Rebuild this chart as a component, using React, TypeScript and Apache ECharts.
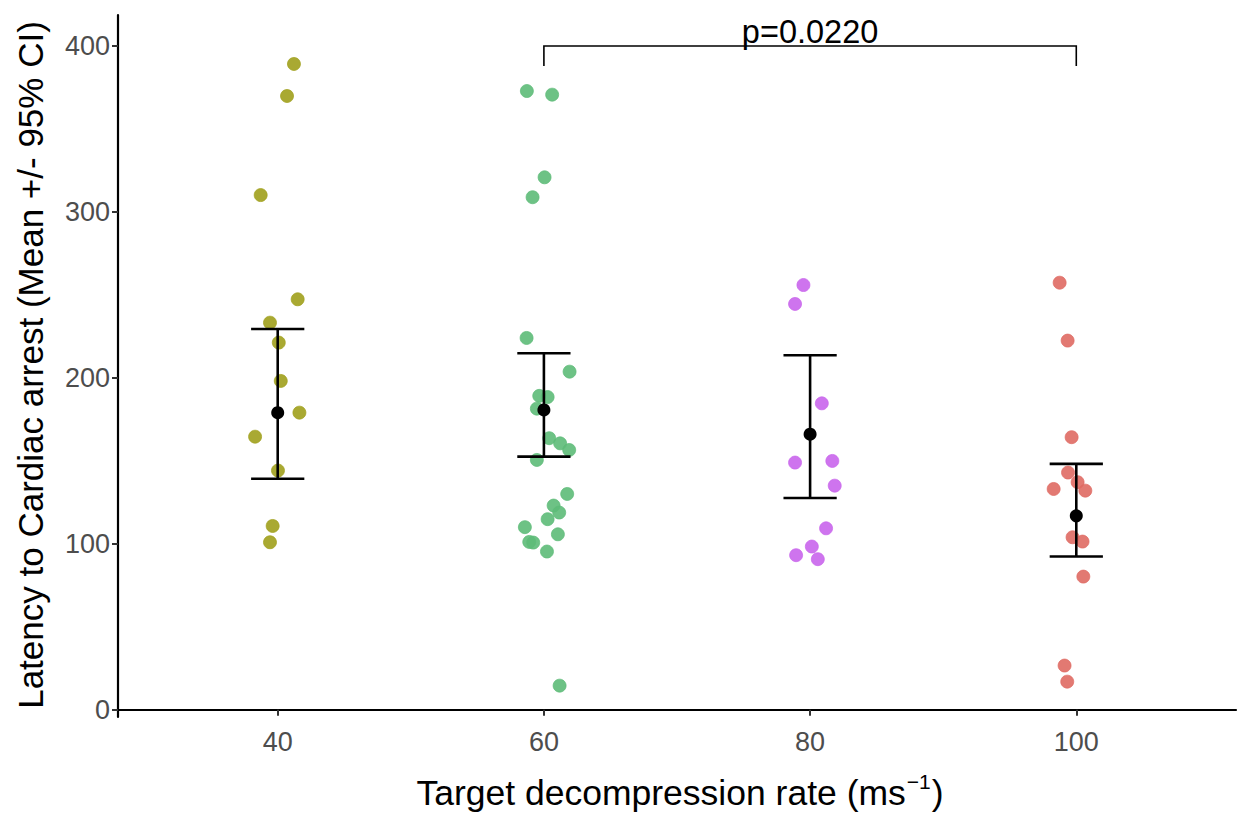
import React, { useEffect, useRef } from "react";
import * as echarts from "echarts";

// Jittered observations per target decompression rate (x = jittered rate, y = latency)
const rate40X = [41.22, 40.7, 38.72, 41.5, 39.42, 40.08, 40.23, 41.63, 38.3, 40.02, 39.62, 39.42];
const rate40Y = [389.2, 369.9, 310.2, 247.4, 233.3, 221.3, 198.2, 179.1, 164.6, 144.2, 110.8, 101.0];

const rate60X = [58.72, 60.62, 60.05, 59.15, 58.7, 61.93, 59.65, 60.28, 59.47, 60.4, 61.22, 61.9, 59.47, 61.75, 60.73, 61.15, 60.28, 58.57, 61.05, 58.9, 59.2, 60.23, 61.18];
const rate60Y = [372.9, 370.7, 320.9, 308.9, 224.1, 203.8, 189.2, 188.5, 181.5, 163.7, 160.6, 156.6, 150.6, 130.1, 123.1, 118.9, 114.9, 110.1, 105.8, 101.2, 100.8, 95.4, 14.6];

const rate80X = [79.5, 78.87, 80.88, 78.87, 81.67, 81.85, 81.2, 80.13, 78.95, 80.58];
const rate80Y = [256.0, 244.6, 184.7, 149.0, 150.0, 135.1, 109.4, 98.4, 93.2, 90.8];

const rate100X = [98.75, 99.35, 99.65, 99.38, 100.1, 98.3, 100.68, 99.72, 100.47, 100.53, 99.12, 99.32];
const rate100Y = [257.4, 222.5, 164.3, 143.0, 137.2, 133.1, 132.1, 104.0, 101.4, 80.3, 26.7, 17.0];

// Summary: mean and 95% CI
const rates = [40, 60, 80, 100];
const means = [179.1, 180.7, 166.1, 116.9];
const ciLow = [139.3, 152.6, 127.7, 92.4];
const ciHigh = [229.5, 214.9, 213.7, 148.2];

// Tick labels
const xTicks = [40, 60, 80, 100];
const yTicks = [0, 100, 200, 300, 400];

// Significance bracket
const bracketFrom = 60;
const bracketTo = 100;
const bracketTop = 400;
const bracketFoot = 388;
const pLabel = "p=0.0220";

const groupColors = ["#A0A01C", "#5DBB78", "#C965EC", "#DF6A63"];
const FONT = "'Liberation Sans', Arial, Helvetica, sans-serif";

function zip(xs: number[], ys: number[]) {
  return xs.map((x, i) => [x, ys[i]]);
}

export default function App() {
  const ref = useRef<HTMLDivElement>(null);

  useEffect(() => {
    document.body.style.margin = "0";
    if (!ref.current) return;
    const chart = echarts.init(ref.current, null, { renderer: "svg" });

    const groups = [
      zip(rate40X, rate40Y),
      zip(rate60X, rate60Y),
      zip(rate80X, rate80Y),
      zip(rate100X, rate100Y),
    ];

    const pointSeries = groups.map((data, i) => ({
      type: "scatter",
      name: String(rates[i]),
      data,
      symbol: "circle",
      symbolSize: 13,
      itemStyle: {
        color: groupColors[i],
        opacity: 0.9,
        borderColor: groupColors[i],
        borderWidth: 0.8,
      },
      z: 2,
    }));

    const errorData = rates.map((r, i) => [r, ciLow[i], ciHigh[i]]);

    const option: any = {
      animation: false,
      backgroundColor: "#ffffff",
      grid: { left: 118, right: 12, top: 15, bottom: 102, containLabel: false },
      xAxis: {
        type: "value",
        min: 28,
        max: 112,
        axisLine: { show: true, lineStyle: { color: "#000", width: 2.2 } },
        axisTick: {
          show: true,
          length: 6,
          lineStyle: { color: "#333", width: 2 },
          customValues: xTicks,
        },
        axisLabel: {
          customValues: xTicks,
          color: "#4D4D4D",
          fontSize: 27,
          fontFamily: FONT,
          margin: 11,
        },
        splitLine: { show: false },
      },
      yAxis: {
        type: "value",
        min: -4.3,
        max: 418.7,
        axisLine: { show: true, lineStyle: { color: "#000", width: 2.2 } },
        axisTick: {
          show: true,
          length: 6,
          lineStyle: { color: "#333", width: 2 },
          customValues: yTicks,
        },
        axisLabel: {
          customValues: yTicks,
          color: "#4D4D4D",
          fontSize: 27,
          fontFamily: FONT,
          margin: 8,
        },
        splitLine: { show: false },
      },
      series: [
        ...pointSeries,
        {
          type: "custom",
          name: "ci",
          data: errorData,
          encode: { x: 0, y: [1, 2] },
          z: 5,
          renderItem: (params: any, api: any) => {
            const x = api.value(0);
            const lo = api.value(1);
            const hi = api.value(2);
            const pLo = api.coord([x, lo]);
            const pHi = api.coord([x, hi]);
            const capL = api.coord([x - 2, hi]);
            const capR = api.coord([x + 2, hi]);
            const capL2 = api.coord([x - 2, lo]);
            const capR2 = api.coord([x + 2, lo]);
            const st = { stroke: "#000", lineWidth: 2.6 };
            return {
              type: "group",
              children: [
                { type: "line", shape: { x1: pLo[0], y1: pLo[1], x2: pHi[0], y2: pHi[1] }, style: st },
                { type: "line", shape: { x1: capL[0], y1: capL[1], x2: capR[0], y2: capR[1] }, style: st },
                { type: "line", shape: { x1: capL2[0], y1: capL2[1], x2: capR2[0], y2: capR2[1] }, style: st },
              ],
            };
          },
        },
        {
          type: "scatter",
          name: "mean",
          data: zip(rates, means),
          symbol: "circle",
          symbolSize: 13,
          itemStyle: { color: "#000", opacity: 1 },
          z: 6,
        },
        {
          type: "custom",
          name: "bracket",
          data: [[bracketFrom, bracketTo, bracketTop, bracketFoot]],
          encode: { x: [0, 1], y: [2, 3] },
          clip: false,
          z: 7,
          renderItem: (params: any, api: any) => {
            const a = api.value(0);
            const b = api.value(1);
            const top = api.value(2);
            const foot = api.value(3);
            const p1 = api.coord([a, foot]);
            const p2 = api.coord([a, top]);
            const p3 = api.coord([b, top]);
            const p4 = api.coord([b, foot]);
            const mid = api.coord([(a + b) / 2, top]);
            return {
              type: "group",
              children: [
                {
                  type: "polyline",
                  shape: { points: [p1, p2, p3, p4] },
                  style: { stroke: "#000", lineWidth: 1.6, fill: "none" },
                },
                {
                  type: "text",
                  x: mid[0],
                  y: mid[1] + 2,
                  style: {
                    text: pLabel,
                    fill: "#000",
                    fontSize: 32.5,
                    fontFamily: FONT,
                    align: "center",
                    verticalAlign: "bottom",
                    textAlign: "center",
                    textVerticalAlign: "bottom",
                  },
                },
              ],
            };
          },
        },
      ],
      graphic: [
        {
          type: "text",
          x: 30,
          y: 365,
          rotation: Math.PI / 2,
          style: {
            text: "Latency to Cardiac arrest (Mean +/- 95% CI)",
            fill: "#000",
            fontSize: 35,
            fontFamily: FONT,
            align: "center",
            verticalAlign: "middle",
            textAlign: "center",
            textVerticalAlign: "middle",
          },
        },
        {
          type: "text",
          x: 680,
          y: 793,
          style: {
            text: "{a|Target decompression rate (ms}{b|−1}{a|)}",
            fill: "#000",
            fontSize: 35.5,
            fontFamily: FONT,
            align: "center",
            verticalAlign: "middle",
            textAlign: "center",
            textVerticalAlign: "middle",
            rich: {
              a: { fontSize: 35.5, fontFamily: FONT, fill: "#000", lineHeight: 44 },
              b: { fontSize: 21, fontFamily: FONT, fill: "#000", lineHeight: 44, verticalAlign: "top", padding: [0, 1, 0, 1] },
            },
          },
        },
      ],
    };

    chart.setOption(option);
    return () => {
      chart.dispose();
    };
  }, []);

  return <div ref={ref} style={{ width: 1248, height: 819 }} />;
}
